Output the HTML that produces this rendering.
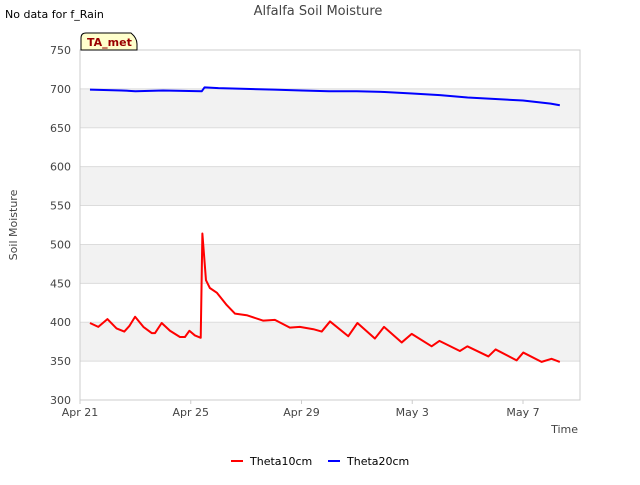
<!DOCTYPE html>
<html><head><meta charset="utf-8"><style>
body{margin:0;background:#fff;font-family:"Liberation Sans","DejaVu Sans",sans-serif;}
svg text{font-family:"DejaVu Sans","Liberation Sans",sans-serif;}
</style></head><body>
<svg width="640" height="480" xmlns="http://www.w3.org/2000/svg">
<text x="5" y="18" font-size="11" fill="#000">No data for f_Rain</text>
<text x="318" y="15" font-size="13" fill="#444" text-anchor="middle">Alfalfa Soil Moisture</text>
<g id="grid"></g>
<rect x="80" y="50" width="500" height="350" fill="none" stroke="#ccc"/>
<g id="axes"></g>
<g id="series"></g>
<g>
<path d="M81,50 L81,38 Q81,33 86,33 L131,33 Q137,38 137,44 L137,50 Z" fill="#ffffcc" stroke="#000"/>
<text x="87" y="46" font-size="11" font-weight="bold" fill="#990000">TA_met</text>
</g>
<text x="17" y="225" font-size="11" fill="#444" text-anchor="middle" transform="rotate(-90 17 225)">Soil Moisture</text>
<text x="578" y="433" font-size="11" fill="#444" text-anchor="end">Time</text>
<g>
<g><line x1="231" y1="461" x2="243" y2="461" stroke="red" stroke-width="2"/><text x="250" y="465" font-size="11" fill="#000">Theta10cm</text></g>
<g><line x1="328" y1="461" x2="340" y2="461" stroke="blue" stroke-width="2"/><text x="347" y="465" font-size="11" fill="#000">Theta20cm</text></g>
</g>
</svg>
<script>
const yTicks=[300,350,400,450,500,550,600,650,700,750];
const xTickDays=[0,4,8,12,16];
const xTickLabels=["Apr 21","Apr 25","Apr 29","May 3","May 7"];
const theta10Days=[0.36,0.66,0.99,1.32,1.6,1.78,1.99,2.29,2.59,2.71,2.95,3.25,3.61,3.79,3.95,4.15,4.36,4.42,4.55,4.69,4.94,5.3,5.6,6.02,6.62,7.04,7.58,7.94,8.43,8.73,9.03,9.69,10.02,10.65,10.98,11.62,11.98,12.7,12.98,13.72,13.99,14.75,15.01,15.77,16.01,16.67,17.03,17.33];
const theta10Vals=[399,394,404,392,388,395,407,394,386,386,399,389,381,381,389,383,380,514,454,444,438,422,411,409,402,403,393,394,391,388,401,382,399,379,394,374,385,369,376,363,369,356,365,351,361,349,353,349];
const theta20Days=[0.36,1.5,2.0,3.0,4.4,4.5,5.0,6.0,7.0,8.0,9.0,10.0,11.0,12.0,13.0,14.0,15.0,16.0,17.0,17.33];
const theta20Vals=[699,698,697,698,697,702,701,700,699,698,697,697,696,694,692,689,687,685,681,679];
const X=d=>80+d*(523-80)/16;
const Y=v=>400-(v-300)*350/450;
const NS="http://www.w3.org/2000/svg";
function mk(t,a,p){const e=document.createElementNS(NS,t);for(const k in a)e.setAttribute(k,a[k]);p.appendChild(e);return e;}
const grid=document.getElementById('grid'),axes=document.getElementById('axes'),series=document.getElementById('series');
for(let i=0;i<yTicks.length-1;i++){
 if(i%2===1){const r=mk('rect',{x:80,y:Y(yTicks[i+1]),width:500,height:Y(yTicks[i])-Y(yTicks[i+1]),fill:'#f2f2f2'},grid);
 
 }
}
yTicks.forEach(v=>{
 const l=mk('line',{x1:80,x2:580,y1:Y(v),y2:Y(v),stroke:'#dcdcdc'},grid);
 
 
 const t=mk('text',{x:71,y:Y(v)+4,'font-size':11,fill:'#444','text-anchor':'end'},axes);t.textContent=v;
 
 
});
xTickDays.forEach((d,i)=>{
 mk('line',{x1:X(d),x2:X(d),y1:400,y2:404,stroke:'#ccc'},axes);
 const t=mk('text',{x:X(d),y:416,'font-size':11,fill:'#444','text-anchor':'middle'},axes);t.textContent=xTickLabels[i];
 
 
});
function line(ds,vs,c,name){
 const p=mk('polyline',{points:ds.map((d,i)=>X(d)+','+Y(vs[i])).join(' '),fill:'none',stroke:c,'stroke-width':2,'stroke-linejoin':'round'},series);
 
 
}
line(theta20Days,theta20Vals,'blue','theta20cm-line');
line(theta10Days,theta10Vals,'red','theta10cm-line');
</script>
</body></html>
